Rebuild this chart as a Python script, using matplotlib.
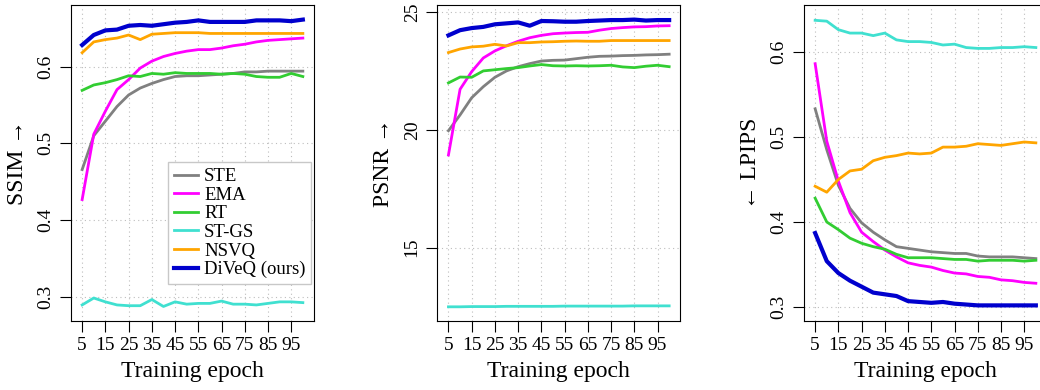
import matplotlib
matplotlib.use("Agg")
import matplotlib.pyplot as plt

plt.rcParams["font.family"] = ["Liberation Serif", "DejaVu Serif"]

epochs = list(range(5, 101, 5))
methods = ["STE", "EMA", "RT", "ST-GS", "NSVQ", "DiVeQ (ours)"]
colors = ["#808080", "#FF00FF", "#32CD32", "#40E0D0", "#FFA500", "#0000CD"]
widths = [2.0, 2.0, 2.0, 2.0, 2.0, 3.0]

ssim_ste = [0.466, 0.510, 0.529, 0.548, 0.563, 0.572, 0.578, 0.583, 0.587, 0.588,
            0.588, 0.589, 0.590, 0.591, 0.593, 0.593, 0.594, 0.594, 0.594, 0.594]
ssim_ema = [0.427, 0.512, 0.542, 0.570, 0.583, 0.598, 0.607, 0.613, 0.617, 0.620,
            0.622, 0.622, 0.624, 0.627, 0.629, 0.632, 0.634, 0.635, 0.636, 0.637]
ssim_rt = [0.569, 0.576, 0.579, 0.583, 0.588, 0.587, 0.591, 0.590, 0.592, 0.591,
           0.591, 0.591, 0.590, 0.591, 0.590, 0.587, 0.586, 0.586, 0.591, 0.587]
ssim_stgs = [0.290, 0.299, 0.294, 0.290, 0.289, 0.289, 0.297, 0.288, 0.294, 0.291,
             0.292, 0.292, 0.295, 0.291, 0.291, 0.290, 0.292, 0.294, 0.294, 0.293]
ssim_nsvq = [0.618, 0.632, 0.635, 0.637, 0.641, 0.635, 0.642, 0.643, 0.644, 0.644,
             0.644, 0.643, 0.643, 0.643, 0.643, 0.643, 0.643, 0.643, 0.643, 0.643]
ssim_diveq = [0.628, 0.641, 0.647, 0.648, 0.653, 0.654, 0.653, 0.655, 0.657, 0.658,
              0.660, 0.658, 0.658, 0.658, 0.658, 0.660, 0.660, 0.660, 0.659, 0.661]

psnr_ste = [19.97, 20.64, 21.37, 21.84, 22.24, 22.51, 22.69, 22.82, 22.93, 22.96,
            22.97, 23.03, 23.09, 23.13, 23.14, 23.16, 23.17, 23.19, 23.20, 23.22]
psnr_ema = [18.94, 21.73, 22.48, 23.06, 23.36, 23.58, 23.77, 23.92, 24.02, 24.09,
            24.12, 24.14, 24.15, 24.24, 24.31, 24.35, 24.38, 24.39, 24.42, 24.43]
psnr_rt = [22.00, 22.25, 22.24, 22.51, 22.56, 22.61, 22.65, 22.72, 22.78, 22.73,
           22.72, 22.73, 22.72, 22.73, 22.75, 22.68, 22.65, 22.71, 22.75, 22.69]
psnr_stgs = [12.49, 12.49, 12.50, 12.50, 12.50, 12.51, 12.51, 12.51, 12.51, 12.51,
             12.52, 12.52, 12.52, 12.52, 12.52, 12.52, 12.53, 12.53, 12.53, 12.53]
psnr_nsvq = [23.29, 23.44, 23.53, 23.56, 23.64, 23.57, 23.71, 23.71, 23.74, 23.75,
             23.77, 23.78, 23.77, 23.77, 23.80, 23.80, 23.80, 23.80, 23.80, 23.80]
psnr_diveq = [24.02, 24.24, 24.33, 24.38, 24.49, 24.53, 24.57, 24.43, 24.63, 24.62,
              24.60, 24.60, 24.63, 24.65, 24.67, 24.67, 24.69, 24.65, 24.67, 24.67]

lpips_ste = [0.533, 0.485, 0.443, 0.416, 0.399, 0.388, 0.379, 0.371, 0.369, 0.367,
             0.365, 0.364, 0.363, 0.363, 0.360, 0.359, 0.359, 0.359, 0.358, 0.357]
lpips_ema = [0.586, 0.495, 0.448, 0.411, 0.388, 0.377, 0.367, 0.359, 0.352, 0.349,
             0.347, 0.343, 0.340, 0.339, 0.336, 0.335, 0.332, 0.331, 0.329, 0.328]
lpips_rt = [0.428, 0.400, 0.391, 0.381, 0.375, 0.371, 0.368, 0.362, 0.358, 0.358,
            0.358, 0.357, 0.356, 0.356, 0.354, 0.355, 0.355, 0.355, 0.354, 0.355]
lpips_stgs = [0.637, 0.636, 0.626, 0.622, 0.622, 0.619, 0.622, 0.614, 0.612, 0.612,
              0.611, 0.608, 0.609, 0.605, 0.604, 0.604, 0.605, 0.605, 0.606, 0.605]
lpips_nsvq = [0.442, 0.435, 0.450, 0.460, 0.462, 0.472, 0.476, 0.478, 0.481, 0.480,
              0.481, 0.488, 0.488, 0.489, 0.492, 0.491, 0.490, 0.492, 0.494, 0.493]
lpips_diveq = [0.387, 0.354, 0.340, 0.331, 0.324, 0.317, 0.315, 0.313, 0.307, 0.306,
               0.305, 0.306, 0.304, 0.303, 0.302, 0.302, 0.302, 0.302, 0.302, 0.302]

panels = [
    ("SSIM \u2192", [ssim_ste, ssim_ema, ssim_rt, ssim_stgs, ssim_nsvq, ssim_diveq],
     (0.2695, 0.680), [0.3, 0.4, 0.5, 0.6], ["0.3", "0.4", "0.5", "0.6"]),
    ("PSNR \u2192", [psnr_ste, psnr_ema, psnr_rt, psnr_stgs, psnr_nsvq, psnr_diveq],
     (11.9, 25.31), [15, 20, 25], ["15", "20", "25"]),
    ("\u2190 LPIPS", [lpips_ste, lpips_ema, lpips_rt, lpips_stgs, lpips_nsvq, lpips_diveq],
     (0.284, 0.655), [0.3, 0.4, 0.5, 0.6], ["0.3", "0.4", "0.5", "0.6"]),
]

xticks = list(range(5, 96, 10))
lefts = [71, 437.3, 804]

fig = plt.figure(figsize=(10.4, 3.9), dpi=100)
for i, (ylabel, series, ylim, yticks, ylabels) in enumerate(panels):
    ax = fig.add_axes([lefts[i] / 1040, 69.3 / 390, 243 / 1040, 315.7 / 390])
    for xv in xticks:
        ax.axvline(xv, color="#bdbdbd", lw=0.8, ls=(0, (1, 3)), zorder=0)
    for yv in yticks:
        ax.axhline(yv, color="#bdbdbd", lw=0.8, ls=(0, (1, 3)), zorder=0)
    for name, vals, c, w in zip(methods, series, colors, widths):
        ax.plot(epochs, vals, color=c, lw=w, label=name)
    ax.set_xlim(0.2, 104.8)
    ax.set_ylim(*ylim)
    ax.set_xticks(xticks)
    ax.set_xticklabels([str(t) for t in xticks], fontsize=14)
    ax.set_yticks(yticks)
    ax.set_yticklabels(ylabels, fontsize=14, rotation=90, va="center")
    ax.tick_params(direction="out", length=8, width=0.8, pad=4)
    for s in ax.spines.values():
        s.set_linewidth(0.8)
    ax.set_xlabel("Training epoch", fontsize=17, labelpad=5)
    ax.set_ylabel(ylabel, fontsize=17, labelpad=7)
    if i == 0:
        ax.legend(loc="lower right", bbox_to_anchor=(0.988, 0.116), fontsize=13.5,
                  labelspacing=0.08, handlelength=1.3, handletextpad=0.3,
                  borderpad=0.3, borderaxespad=0, fancybox=False, framealpha=1,
                  edgecolor="#c8c8c8")

fig.savefig("out.png", dpi=100)
